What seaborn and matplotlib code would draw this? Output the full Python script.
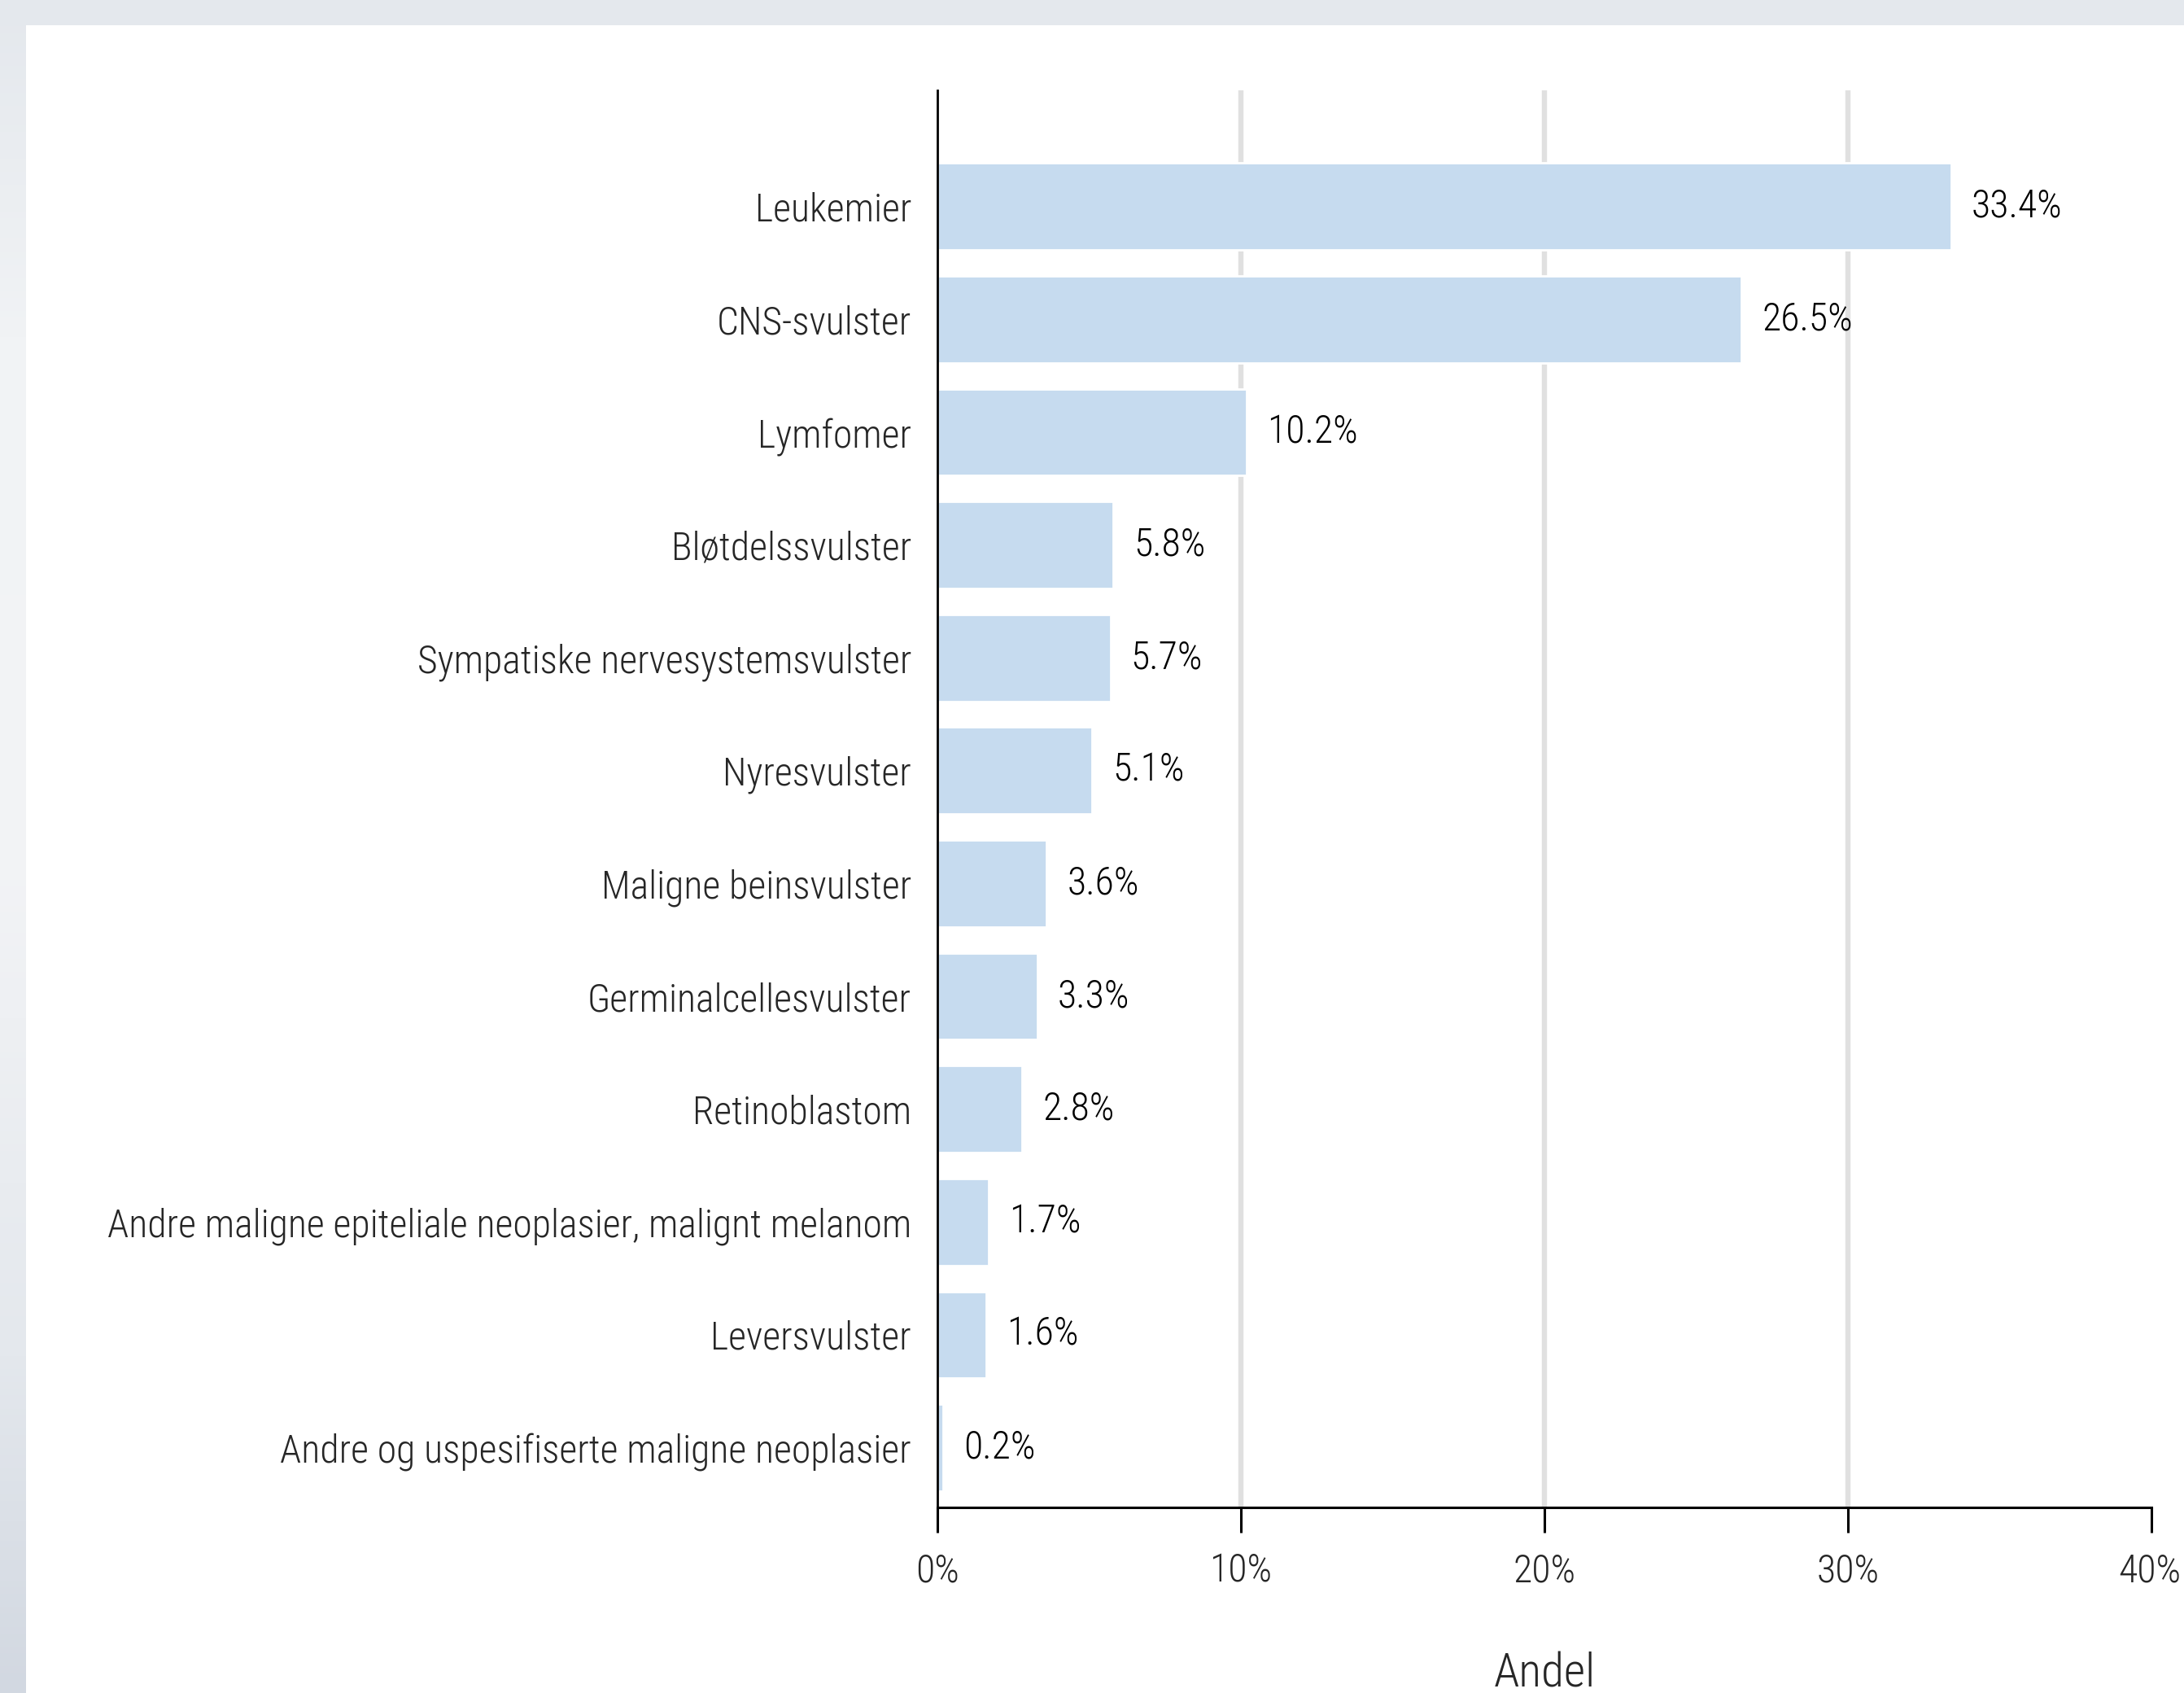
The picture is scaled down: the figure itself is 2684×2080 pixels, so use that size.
import numpy as np
import matplotlib
matplotlib.use("Agg")
import matplotlib.pyplot as plt
from matplotlib import font_manager
from matplotlib.patches import Rectangle
from matplotlib.colors import LinearSegmentedColormap
from matplotlib.transforms import ScaledTranslation
import seaborn as sns

categories = [
    "Leukemier",
    "CNS-svulster",
    "Lymfomer",
    "Bløtdelssvulster",
    "Sympatiske nervesystemsvulster",
    "Nyresvulster",
    "Maligne beinsvulster",
    "Germinalcellesvulster",
    "Retinoblastom",
    "Andre maligne epiteliale neoplasier, malignt melanom",
    "Leversvulster",
    "Andre og uspesifiserte maligne neoplasier",
]
shares = [33.4, 26.5, 10.2, 5.8, 5.7, 5.1, 3.6, 3.3, 2.8, 1.7, 1.6, 0.2]
x_ticks = [0, 10, 20, 30, 40]
x_tick_labels = ["0%", "10%", "20%", "30%", "40%"]

sns.set_style("white")

# the original uses a narrow font; take a condensed one if there is one
installed = {f.name for f in font_manager.fontManager.ttflist}
font_sizes = [
    ("Liberation Sans Narrow", 18),
    ("Roboto Condensed", 17.2),
    ("DejaVu Sans Condensed", 15),
    ("Liberation Sans", 15),
]
font_name, fs = "DejaVu Sans", 14
for name, size in font_sizes:
    if name in installed:
        font_name, fs = name, size
        break
plt.rcParams["font.family"] = [font_name, "DejaVu Sans"]
plt.rcParams["font.weight"] = "light"
plt.rcParams["axes.labelweight"] = "light"

W, H, DPI = 2684, 2080, 200
fig = plt.figure(figsize=(W / DPI, H / DPI), dpi=DPI)
fig.patch.set_facecolor("#e4e8ed")

# left strip gradient
strip = fig.add_axes([0, 0, 32 / W, 1], zorder=0)
cmap = LinearSegmentedColormap.from_list(
    "strip",
    [(0.0, "#e4e8ed"), (0.2, "#f1f3f5"), (0.5, "#f3f4f6"), (0.8, "#e4e8ed"), (1.0, "#d2d8e1")],
)
strip.imshow(np.linspace(0, 1, 256).reshape(-1, 1), aspect="auto", cmap=cmap,
             extent=[0, 1, 1, 0])
strip.set_axis_off()

# white panel
fig.patches.append(Rectangle((32 / W, 0), 1 - 32 / W, 1 - 31 / H,
                             transform=fig.transFigure, facecolor="white",
                             edgecolor="none", zorder=0))

left, right = 1152 / W, 2644 / W
top, bottom = 1 - 111 / H, 1 - 1852 / H
ax = fig.add_axes([left, bottom, right - left, top - bottom], zorder=1)
ax.patch.set_alpha(0)

sns.barplot(x=shares, y=categories, orient="h", color="#c6dbef",
            saturation=1, width=0.77, ax=ax, zorder=2)

ax.bar_label(ax.containers[0], labels=[f"{v:.1f}%" for v in shares],
             padding=9, fontsize=fs, color="black")

ax.set_xlim(0, 40)
ax.set_ylim(11.53, -1.03)
ax.set_xticks(x_ticks)
ax.set_xticklabels(x_tick_labels, fontsize=fs)
ax.tick_params(axis="x", length=11, width=1.1, color="black", pad=9, bottom=True)
ax.tick_params(axis="y", length=0, pad=11.5, labelsize=fs)

# last tick label sits against the right edge, as in the original
last = ax.xaxis.get_major_ticks()[-1].label1
last.set_ha("right")
last.set_transform(last.get_transform() + ScaledTranslation(36 / DPI, 0, fig.dpi_scale_trans))

for xv in x_ticks[1:-1]:
    ax.axvline(xv, color="#e0e0e0", linewidth=2.3, zorder=1)

for s in ["top", "right"]:
    ax.spines[s].set_visible(False)
ax.spines["left"].set_color("black")
ax.spines["left"].set_linewidth(1.0)
ax.spines["bottom"].set_color("black")
ax.spines["bottom"].set_linewidth(1.1)
ax.spines["left"].set_zorder(3)

ax.set_ylabel("")
ax.set_xlabel("Andel", fontsize=fs * 1.2, fontweight="light")
ax.xaxis.set_label_coords(0.5, -0.102)
ax.xaxis.label.set_va("top")

fig.savefig("out.png", dpi=DPI)
